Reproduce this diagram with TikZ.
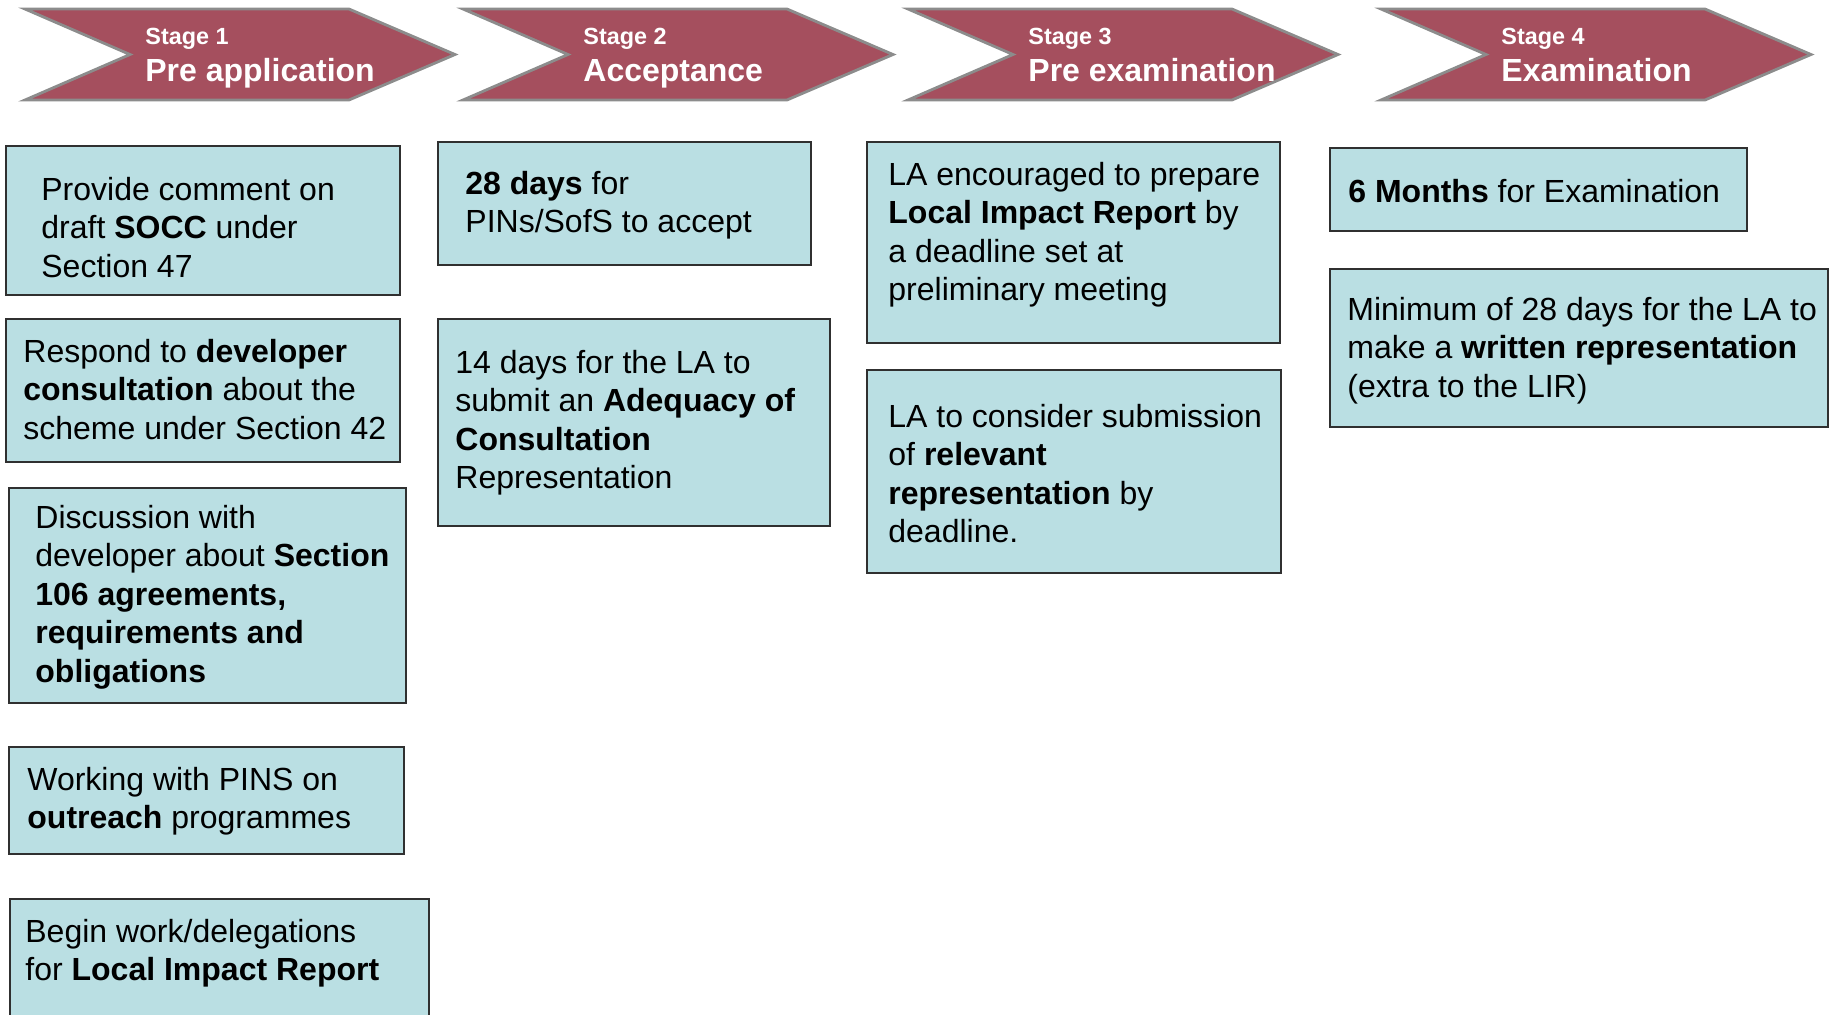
\documentclass[tikz,border=0pt]{standalone}
\usepackage{fontspec}
\setmainfont{Liberation Sans}
\usetikzlibrary{fit}
\definecolor{chevfill}{HTML}{A54F5E}
\definecolor{chevline}{HTML}{8C8C8C}
\definecolor{boxfill}{HTML}{BADFE3}
\definecolor{boxline}{HTML}{303030}
\newcommand{\ml}[1]{\begin{tabular}[t]{@{}l@{}}#1\end{tabular}}
\tikzset{
  chev/.style={fill=chevfill, draw=chevline, line width=1.4pt, line join=miter},
  infobox/.style={fill=boxfill, draw=boxline, line width=1pt, inner sep=0pt},
  txt/.style={anchor=base west, inner sep=0pt, font=\fontsize{16}{19.3}\selectfont},
  stagesmall/.style={anchor=base west, inner sep=0pt, text=white, font=\fontsize{11.7}{14}\selectfont\bfseries},
  stagebig/.style={anchor=base west, inner sep=0pt, text=white, font=\fontsize{16}{19}\selectfont\bfseries}
}
\newcommand{\chevron}[4]{%
  \path[chev] (#1,9) -- (#1+324,9) -- (#1+430,54.5) -- (#1+324,100) -- (#1,100) -- (#1+105,54.5) -- cycle;
  \node[stagesmall] (#4s) at (#1+120,44) {#2};
  \node[stagebig] (#4b) at (#1+120,81) {#3};
}
\begin{document}
\begin{tikzpicture}[x=0.5pt,y=-0.5pt]
\useasboundingbox (0,0) rectangle (1830,1014);
\clip (0,0) rectangle (1830,1014);
\renewcommand{\arraystretch}{1}
% chevrons
\chevron{25}{Stage 1}{Pre application}{c1}
\chevron{463}{Stage 2}{Acceptance}{c2}
\chevron{908}{Stage 3}{Pre examination}{c3}
\chevron{1381}{Stage 4}{Examination}{c4}
% column 1
\node[infobox, fit={(6,146) (400,295)}] (A) {};
\node[txt] (tA) at (41,200) {\ml{Provide comment on\\ draft \textbf{SOCC} under\\ Section 47}};
\node[infobox, fit={(6,319) (400,462)}] (B) {};
\node[txt] (tB) at (23,362) {\ml{Respond to \textbf{developer}\\ \textbf{consultation} about the\\ scheme under Section 42}};
\node[infobox, fit={(9,488) (406,703)}] (C) {};
\node[txt] (tC) at (35,528) {\ml{Discussion with\\ developer about \textbf{Section}\\ \textbf{106 agreements,}\\ \textbf{requirements and}\\ \textbf{obligations}}};
\node[infobox, fit={(9,747) (404,854)}] (D) {};
\node[txt] (tD) at (27,790) {\ml{Working with PINS on\\ \textbf{outreach} programmes}};
\node[infobox, fit={(10,899) (429,1040)}] (E) {};
\node[txt] (tE) at (25,942) {\ml{Begin work/delegations\\ for \textbf{Local Impact Report}}};
% column 2
\node[infobox, fit={(438,142) (811,265)}] (F) {};
\node[txt] (tF) at (465,194) {\ml{\textbf{28 days} for\\ PINs/SofS to accept}};
\node[infobox, fit={(438,319) (830,526)}] (G) {};
\node[txt] (tG) at (455,373) {\ml{14 days for the LA to\\ submit an \textbf{Adequacy of}\\ \textbf{Consultation}\\ Representation}};
% column 3
\node[infobox, fit={(867,142) (1280,343)}] (H) {};
\node[txt] (tH) at (888,185) {\ml{LA encouraged to prepare\\ \textbf{Local Impact Report} by\\ a deadline set at\\ preliminary meeting}};
\node[infobox, fit={(867,370) (1281,573)}] (I) {};
\node[txt] (tI) at (888,427) {\ml{LA to consider submission\\ of \textbf{relevant}\\ \textbf{representation} by\\ deadline.}};
% column 4
\node[infobox, fit={(1330,148) (1747,231)}] (J) {};
\node[txt] (tJ) at (1348,202) {\ml{\textbf{6 Months} for Examination}};
\node[infobox, fit={(1330,269) (1828,427)}] (K) {};
\node[txt] (tK) at (1347,320) {\ml{Minimum of 28 days for the LA to\\ make a \textbf{written representation}\\ (extra to the LIR)}};
\end{tikzpicture}
\end{document}
